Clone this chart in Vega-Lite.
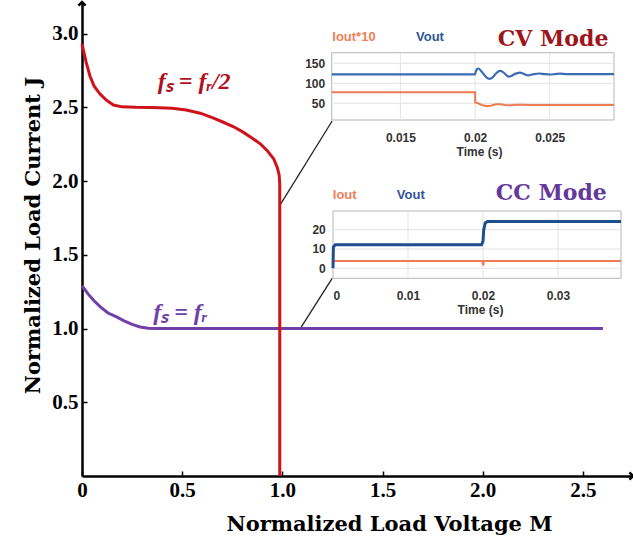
{
  "$schema": "https://vega.github.io/schema/vega-lite/v6.json",
  "width": 551,
  "height": 474,
  "autosize": {"type": "none"},
  "padding": {"left": 82, "top": 2, "right": 0, "bottom": 67},
  "background": "white",
  "config": {"view": {"stroke": null}},
  "datasets": {
    "red": [
      {"i": 0, "M": 0, "J": 2.93}, {"i": 1, "M": 0.02, "J": 2.81}, {"i": 2, "M": 0.04, "J": 2.71},
      {"i": 3, "M": 0.06, "J": 2.645}, {"i": 4, "M": 0.09, "J": 2.59}, {"i": 5, "M": 0.12, "J": 2.55},
      {"i": 6, "M": 0.157, "J": 2.515}, {"i": 7, "M": 0.2, "J": 2.503}, {"i": 8, "M": 0.27, "J": 2.5},
      {"i": 9, "M": 0.35, "J": 2.499}, {"i": 10, "M": 0.45, "J": 2.493}, {"i": 11, "M": 0.52, "J": 2.482},
      {"i": 12, "M": 0.59, "J": 2.46}, {"i": 13, "M": 0.65, "J": 2.43}, {"i": 14, "M": 0.7, "J": 2.402},
      {"i": 15, "M": 0.757, "J": 2.368}, {"i": 16, "M": 0.8, "J": 2.335}, {"i": 17, "M": 0.85, "J": 2.29},
      {"i": 18, "M": 0.89, "J": 2.252}, {"i": 19, "M": 0.925, "J": 2.205}, {"i": 20, "M": 0.957, "J": 2.15},
      {"i": 21, "M": 0.975, "J": 2.09}, {"i": 22, "M": 0.984, "J": 2.04}, {"i": 23, "M": 0.987, "J": 1.98},
      {"i": 24, "M": 0.987, "J": 0}
    ],
    "purple": [
      {"i": 0, "M": 0, "J": 1.29}, {"i": 1, "M": 0.03, "J": 1.235}, {"i": 2, "M": 0.06, "J": 1.188},
      {"i": 3, "M": 0.09, "J": 1.148}, {"i": 4, "M": 0.13, "J": 1.105}, {"i": 5, "M": 0.17, "J": 1.08},
      {"i": 6, "M": 0.21, "J": 1.052}, {"i": 7, "M": 0.25, "J": 1.028}, {"i": 8, "M": 0.29, "J": 1.01},
      {"i": 9, "M": 0.33, "J": 1.002}, {"i": 10, "M": 0.37, "J": 1.0}, {"i": 11, "M": 2.6, "J": 1.0}
    ],
    "connectors": [
      {"M": 0.9865, "J": 1.833, "M2": 1.2485, "J2": 2.407},
      {"M": 1.09, "J": 1.001, "M2": 1.2485, "J2": 1.34}
    ],
    "cvVout": [
      {"t": 0.0104, "v": 122.5}, {"t": 0.02, "v": 122.5}, {"t": 0.02005, "v": 129}, {"t": 0.02011, "v": 134.5},
      {"t": 0.02022, "v": 137}, {"t": 0.0204, "v": 131}, {"t": 0.02059, "v": 122}, {"t": 0.02078, "v": 114},
      {"t": 0.02096, "v": 111}, {"t": 0.02115, "v": 114}, {"t": 0.02131, "v": 121}, {"t": 0.0215, "v": 128},
      {"t": 0.02167, "v": 131}, {"t": 0.02185, "v": 128.5}, {"t": 0.02204, "v": 122.5}, {"t": 0.02223, "v": 116.5},
      {"t": 0.02242, "v": 118}, {"t": 0.02262, "v": 122.5}, {"t": 0.02282, "v": 125.5}, {"t": 0.02301, "v": 126.5},
      {"t": 0.0232, "v": 124.5}, {"t": 0.02338, "v": 121.5}, {"t": 0.02357, "v": 120}, {"t": 0.02376, "v": 121.5},
      {"t": 0.02395, "v": 123}, {"t": 0.0243, "v": 124.5}, {"t": 0.02465, "v": 123}, {"t": 0.025, "v": 122},
      {"t": 0.02535, "v": 123}, {"t": 0.0257, "v": 124}, {"t": 0.0261, "v": 123}, {"t": 0.0293, "v": 123}
    ],
    "cvIout": [
      {"t": 0.0104, "v": 77.5}, {"t": 0.02, "v": 77.5}, {"t": 0.02001, "v": 52}, {"t": 0.0202, "v": 50},
      {"t": 0.0205, "v": 45}, {"t": 0.0208, "v": 42.5}, {"t": 0.0211, "v": 44.5}, {"t": 0.0214, "v": 47.5},
      {"t": 0.0217, "v": 47.5}, {"t": 0.022, "v": 45.5}, {"t": 0.0224, "v": 45}, {"t": 0.0228, "v": 46.5},
      {"t": 0.0232, "v": 46.5}, {"t": 0.0236, "v": 45.5}, {"t": 0.0293, "v": 45.8}
    ],
    "cvFrame": [{"t": 0.0104, "t2": 0.0293, "v": 8.25, "v2": 176.5}],
    "cvGrid": [
      {"t": 0.015, "t2": 0.015, "v": 8.25, "v2": 176.5},
      {"t": 0.02, "t2": 0.02, "v": 8.25, "v2": 176.5},
      {"t": 0.025, "t2": 0.025, "v": 8.25, "v2": 176.5},
      {"t": 0.0104, "t2": 0.0293, "v": 50, "v2": 50},
      {"t": 0.0104, "t2": 0.0293, "v": 100, "v2": 100},
      {"t": 0.0104, "t2": 0.0293, "v": 150, "v2": 150}
    ],
    "ccVout": [
      {"t": 0, "v": 0}, {"t": 0.00005, "v": 11}, {"t": 0.0003, "v": 12.2}, {"t": 0.0198, "v": 12.2},
      {"t": 0.02, "v": 14}, {"t": 0.0201, "v": 20}, {"t": 0.0203, "v": 23.5}, {"t": 0.0206, "v": 24.3},
      {"t": 0.0384, "v": 24.3}
    ],
    "ccIout": [
      {"t": 0, "v": 3.8}, {"t": 0.0199, "v": 3.8}, {"t": 0.02005, "v": 1.5}, {"t": 0.0201, "v": 3.8},
      {"t": 0.0384, "v": 3.8}
    ],
    "ccFrame": [{"t": 0, "t2": 0.0384, "v": -5.2, "v2": 29.7}],
    "ccGrid": [
      {"t": 0.01, "t2": 0.01, "v": -5.2, "v2": 29.7},
      {"t": 0.02, "t2": 0.02, "v": -5.2, "v2": 29.7},
      {"t": 0.03, "t2": 0.03, "v": -5.2, "v2": 29.7},
      {"t": 0, "t2": 0.0384, "v": 0, "v2": 0},
      {"t": 0, "t2": 0.0384, "v": 10, "v2": 10},
      {"t": 0, "t2": 0.0384, "v": 20, "v2": 20}
    ]
  },
  "layer": [
    {
      "encoding": {
        "x": {
          "field": "M", "type": "quantitative",
          "scale": {"domain": [0, 2.75], "nice": false, "zero": false},
          "axis": {
            "orient": "bottom", "values": [0, 0.5, 1, 1.5, 2, 2.5],
            "labelExpr": "datum.value == 0 ? '0' : format(datum.value, '.1f')",
            "labelFont": "Liberation Serif", "labelFontWeight": "bold", "labelFontSize": 21,
            "labelColor": "black", "labelPadding": 8, "labelFlush": false,
            "tickSize": -5, "tickColor": "black", "tickWidth": 1.5,
            "domainColor": "black", "domainWidth": 2.5, "grid": false,
            "title": "Normalized Load Voltage M",
            "titleFont": "DejaVu Serif", "titleFontWeight": "bold", "titleFontSize": 21,
            "titleColor": "black", "titleX": 307, "titleY": 48, "titleBaseline": "middle", "titleAlign": "center"
          }
        },
        "y": {
          "field": "J", "type": "quantitative",
          "scale": {"domain": [0, 3.214], "nice": false, "zero": false},
          "axis": {
            "orient": "left", "values": [0.5, 1, 1.5, 2, 2.5, 3],
            "labelExpr": "format(datum.value, '.1f')",
            "labelFont": "Liberation Serif", "labelFontWeight": "bold", "labelFontSize": 21,
            "labelColor": "black", "labelPadding": 9, "labelFlush": false,
            "tickSize": -5, "tickColor": "black", "tickWidth": 1.5,
            "domainColor": "black", "domainWidth": 2.5, "grid": false,
            "title": "Normalized Load Current J",
            "titleFont": "DejaVu Serif", "titleFontWeight": "bold", "titleFontSize": 21,
            "titleColor": "black", "titleX": -49, "titleY": 233, "titleAngle": -90,
            "titleBaseline": "middle", "titleAlign": "center"
          }
        }
      },
      "layer": [
        {
          "data": {"name": "connectors"},
          "mark": {"type": "rule", "color": "#222222", "strokeWidth": 1.3},
          "encoding": {"x2": {"field": "M2"}, "y2": {"field": "J2"}}
        },
        {
          "data": {"name": "purple"},
          "mark": {"type": "line", "color": "#7040A8", "strokeWidth": 3},
          "encoding": {"order": {"field": "i"}}
        },
        {
          "data": {"name": "red"},
          "mark": {"type": "line", "color": "#D0121B", "strokeWidth": 3},
          "encoding": {"order": {"field": "i"}}
        },
        {
          "data": {"values": [{"M": 0.56, "J": 2.67, "label": "fₛ = fᵣ/2"}]},
          "mark": {"type": "text", "font": "Liberation Serif", "fontStyle": "italic", "fontWeight": "bold", "fontSize": 24, "color": "#B0101C", "baseline": "middle", "align": "center"},
          "encoding": {"text": {"field": "label"}}
        },
        {
          "data": {"values": [{"M": 0.49, "J": 1.105, "label": "fₛ = fᵣ"}]},
          "mark": {"type": "text", "font": "Liberation Serif", "fontStyle": "italic", "fontWeight": "bold", "fontSize": 24, "color": "#7040A8", "baseline": "middle", "align": "center"},
          "encoding": {"text": {"field": "label"}}
        },
        {
          "data": {"values": [{"M": 0, "J": 3.214}]},
          "mark": {"type": "point", "shape": "M-0.5,0.5L0,0L0.5,0.5", "filled": false, "stroke": "black", "strokeWidth": 2.5, "size": 200, "opacity": 1}
        },
        {
          "data": {"values": [{"M": 2.75, "J": 0}]},
          "mark": {"type": "point", "shape": "M-0.5,-0.5L0,0L-0.5,0.5", "filled": false, "stroke": "black", "strokeWidth": 2.5, "size": 200, "opacity": 1}
        }
      ]
    },
    {
      "encoding": {
        "x": {
          "field": "t", "type": "quantitative",
          "scale": {"domain": [0.0104, 0.0293], "range": [249.7, 532], "nice": false, "zero": false},
          "axis": {
            "orient": "bottom", "offset": -356, "values": [0.015, 0.02, 0.025], "format": "~g",
            "domain": false, "ticks": false, "grid": false,
            "labelFont": "Liberation Sans", "labelFontWeight": "bold", "labelFontSize": 12, "labelColor": "#333333", "labelPadding": 12,
            "title": "Time (s)", "titleFont": "Liberation Sans", "titleFontWeight": "bold", "titleFontSize": 12,
            "titleColor": "#333333", "titlePadding": 3, "titleX": 397
          }
        },
        "y": {
          "field": "v", "type": "quantitative",
          "scale": {"domain": [8.25, 176.5], "range": [118, 50.7], "nice": false, "zero": false},
          "axis": {
            "orient": "left", "offset": -249.7, "values": [50, 100, 150],
            "domain": false, "ticks": false, "grid": false,
            "labelFont": "Liberation Sans", "labelFontWeight": "bold", "labelFontSize": 12, "labelColor": "#333333", "labelPadding": 7,
            "title": null
          }
        }
      },
      "layer": [
        {
          "data": {"name": "cvFrame"},
          "mark": {"type": "rect", "fill": "white", "stroke": "#b5b5b5", "strokeWidth": 1},
          "encoding": {"x2": {"field": "t2"}, "y2": {"field": "v2"}}
        },
        {
          "data": {"name": "cvGrid"},
          "mark": {"type": "rule", "color": "#e3e3e3", "strokeWidth": 1},
          "encoding": {"x2": {"field": "t2"}, "y2": {"field": "v2"}}
        },
        {
          "data": {"name": "cvVout"},
          "mark": {"type": "line", "color": "#3A6DB5", "strokeWidth": 2.2, "interpolate": "monotone"}
        },
        {
          "data": {"name": "cvIout"},
          "mark": {"type": "line", "color": "#EE7B52", "strokeWidth": 2}
        },
        {
          "data": {"values": [{"t": 0.01189, "v": 215.75, "label": "Iout*10"}]},
          "mark": {"type": "text", "font": "Liberation Sans", "fontWeight": "bold", "fontSize": 13, "color": "#F07F5A", "baseline": "middle", "align": "center"},
          "encoding": {"text": {"field": "label"}}
        },
        {
          "data": {"values": [{"t": 0.01698, "v": 215.75, "label": "Vout"}]},
          "mark": {"type": "text", "font": "Liberation Sans", "fontWeight": "bold", "fontSize": 13, "color": "#2F5597", "baseline": "middle", "align": "center"},
          "encoding": {"text": {"field": "label"}}
        },
        {
          "data": {"values": [{"t": 0.02522, "v": 210.75, "label": "CV Mode"}]},
          "mark": {"type": "text", "font": "DejaVu Serif", "fontWeight": "bold", "fontSize": 22, "color": "#A0141C", "baseline": "middle", "align": "center"},
          "encoding": {"text": {"field": "label"}}
        }
      ]
    },
    {
      "encoding": {
        "x": {
          "field": "t", "type": "quantitative",
          "scale": {"domain": [0, 0.0384], "range": [251, 539], "nice": false, "zero": false},
          "axis": {
            "orient": "bottom", "offset": -197.7, "values": [0, 0.01, 0.02, 0.03], "format": "~g",
            "domain": false, "ticks": false, "grid": false,
            "labelFont": "Liberation Sans", "labelFontWeight": "bold", "labelFontSize": 12, "labelColor": "#333333", "labelPadding": 12,
            "title": "Time (s)", "titleFont": "Liberation Sans", "titleFontWeight": "bold", "titleFontSize": 12,
            "titleColor": "#333333", "titlePadding": 3, "titleX": 398
          }
        },
        "y": {
          "field": "v", "type": "quantitative",
          "scale": {"domain": [-5.2, 29.7], "range": [276.3, 209], "nice": false, "zero": false},
          "axis": {
            "orient": "left", "offset": -250.3, "values": [0, 10, 20],
            "domain": false, "ticks": false, "grid": false,
            "labelFont": "Liberation Sans", "labelFontWeight": "bold", "labelFontSize": 12, "labelColor": "#333333", "labelPadding": 7,
            "title": null
          }
        }
      },
      "layer": [
        {
          "data": {"name": "ccFrame"},
          "mark": {"type": "rect", "fill": "white", "stroke": "#b5b5b5", "strokeWidth": 1},
          "encoding": {"x2": {"field": "t2"}, "y2": {"field": "v2"}}
        },
        {
          "data": {"name": "ccGrid"},
          "mark": {"type": "rule", "color": "#e3e3e3", "strokeWidth": 1},
          "encoding": {"x2": {"field": "t2"}, "y2": {"field": "v2"}}
        },
        {
          "data": {"name": "ccIout"},
          "mark": {"type": "line", "color": "#EE7B52", "strokeWidth": 2}
        },
        {
          "data": {"name": "ccVout"},
          "mark": {"type": "line", "color": "#1F4E8A", "strokeWidth": 3}
        },
        {
          "data": {"values": [{"t": 0.00156, "v": 38.0, "label": "Iout"}]},
          "mark": {"type": "text", "font": "Liberation Sans", "fontWeight": "bold", "fontSize": 13, "color": "#F07F5A", "baseline": "middle", "align": "center"},
          "encoding": {"text": {"field": "label"}}
        },
        {
          "data": {"values": [{"t": 0.01037, "v": 38.0, "label": "Vout"}]},
          "mark": {"type": "text", "font": "Liberation Sans", "fontWeight": "bold", "fontSize": 13, "color": "#2F5597", "baseline": "middle", "align": "center"},
          "encoding": {"text": {"field": "label"}}
        },
        {
          "data": {"values": [{"t": 0.0291, "v": 39.0, "label": "CC Mode"}]},
          "mark": {"type": "text", "font": "DejaVu Serif", "fontWeight": "bold", "fontSize": 22, "color": "#65399C", "baseline": "middle", "align": "center"},
          "encoding": {"text": {"field": "label"}}
        }
      ]
    }
  ],
  "resolve": {
    "scale": {"x": "independent", "y": "independent"},
    "axis": {"x": "independent", "y": "independent"}
  }
}
